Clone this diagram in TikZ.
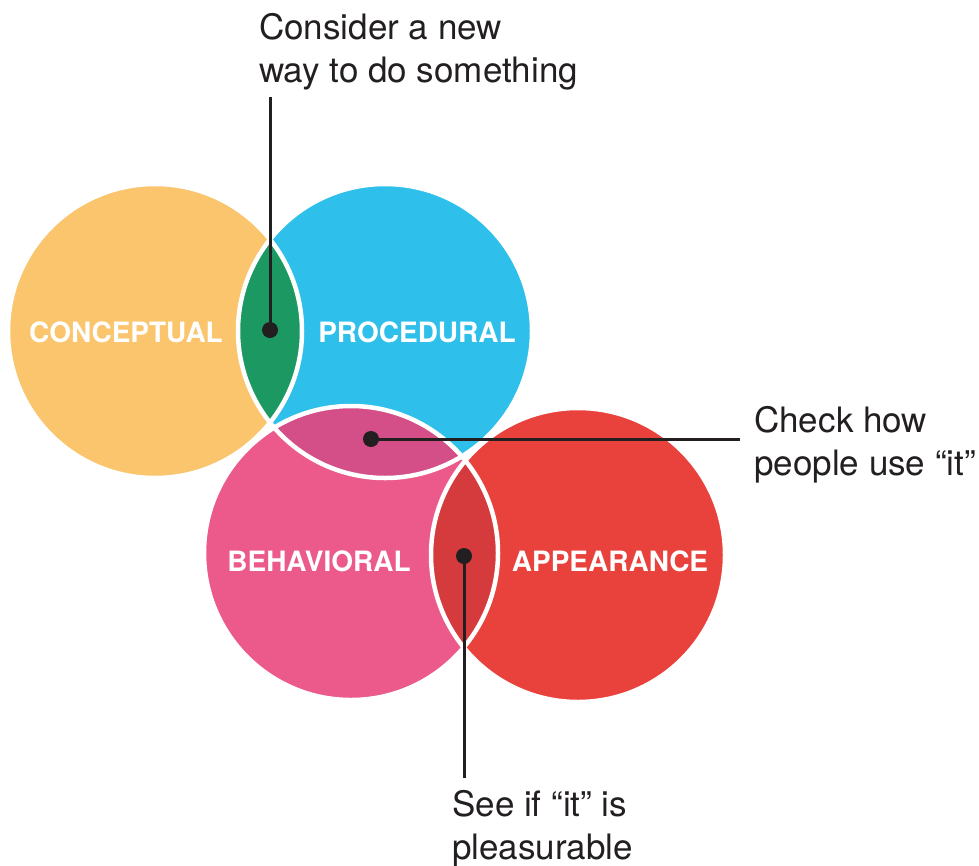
\documentclass[tikz,border=0pt]{standalone}
\usepackage{fontspec}
\setmainfont{TeX Gyre Heros}
\definecolor{cConc}{HTML}{FAC56C}
\definecolor{cProc}{HTML}{2EC0EA}
\definecolor{cBeha}{HTML}{EB5A8B}
\definecolor{cAppe}{HTML}{E9423D}
\definecolor{cGreen}{HTML}{1C9862}
\definecolor{cPurp}{HTML}{D44E88}
\definecolor{cRed}{HTML}{D53B3C}
\definecolor{ink}{HTML}{231F20}
\begin{document}
\begin{tikzpicture}[x=1pt,y=-1pt,
  venn/.style={circle, minimum size=294pt, inner sep=0pt, draw=none},
  ring/.style={draw=white, line width=4.5pt},
  lbl/.style={font=\fontsize{28}{32}\selectfont\bfseries, text=white, inner sep=0pt},
  callout/.style={font=\fontsize{35}{43}\selectfont, align=left, inner sep=0pt, anchor=north west, text=ink},
  dot/.style={circle, fill=ink, minimum size=16pt, inner sep=0pt},
  leader/.style={draw=ink, line width=3pt}]
\useasboundingbox (0,0) rectangle (979,865);
\fill[white] (0,0) rectangle (979,865);
% circles
\node[venn, fill=cConc] (conc) at (155,331) {};
\node[venn, fill=cProc] (proc) at (385,331) {};
\node[venn, fill=cBeha] (beha) at (351,553) {};
\node[venn, fill=cAppe] (appe) at (578,555) {};
% lenses
\begin{scope}
  \clip (conc.center) circle[radius=147pt];
  \fill[cGreen] (proc.center) circle[radius=147pt];
\end{scope}
\begin{scope}
  \clip (proc.center) circle[radius=147pt];
  \fill[cPurp] (beha.center) circle[radius=147pt];
\end{scope}
\begin{scope}
  \clip (beha.center) circle[radius=147pt];
  \fill[cRed] (appe.center) circle[radius=147pt];
\end{scope}
% white rings
\foreach \c in {conc,proc,beha,appe}
  \draw[ring] (\c.center) circle[radius=147pt];
% labels
\node[lbl] (lconc) at (126,332) {CONCEPTUAL};
\node[lbl] (lproc) at (417,332) {PROCEDURAL};
\node[lbl] (lbeha) at (319,561) {BEHAVIORAL};
\node[lbl] (lappe) at (610,561) {APPEARANCE};
% callouts
\node[callout] (t1) at (259,13) {Consider a new\\way to do something};
\node[callout] (t2) at (754,406) {Check how\\people use “it”};
\node[callout] (t3) at (452,790) {See if “it” is\\pleasurable};
% dots
\node[dot] (d1) at (270,330) {};
\node[dot] (d2) at (371,439) {};
\node[dot] (d3) at (464,556) {};
\coordinate (e1) at (270,97);
\coordinate (e2) at (740,439);
\coordinate (e3) at (464,778);
\draw[leader] (d1.center) -- (e1);
\draw[leader] (d2.center) -- (e2);
\draw[leader] (d3.center) -- (e3);
\end{tikzpicture}
\end{document}
